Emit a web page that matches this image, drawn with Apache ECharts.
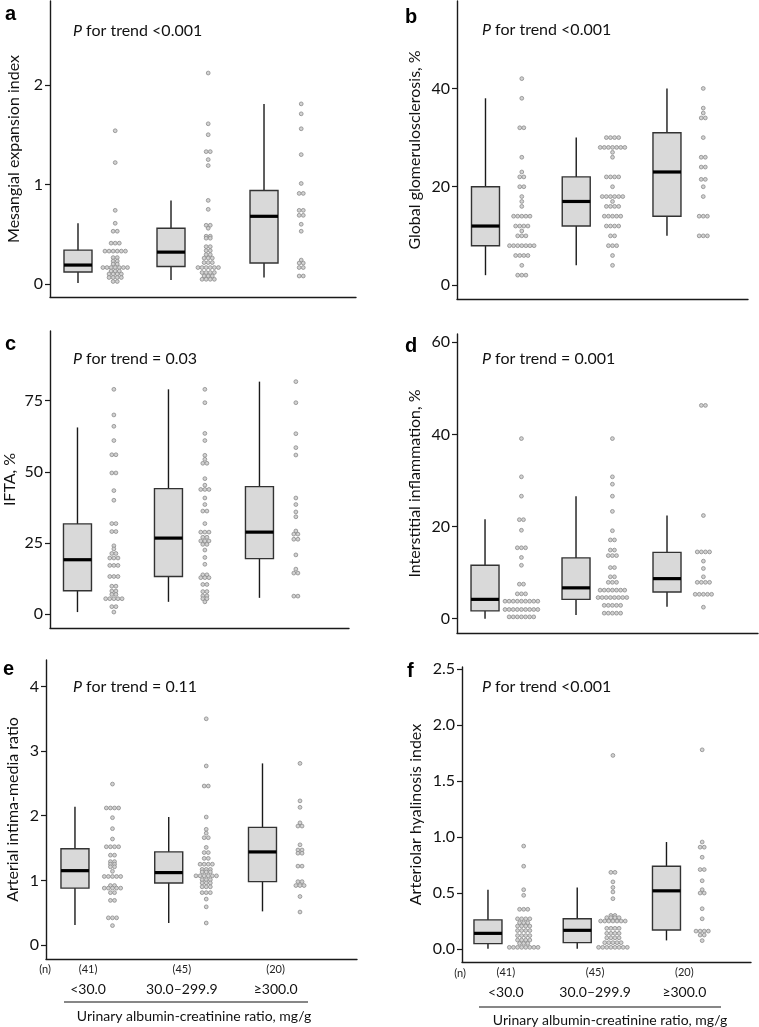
<!DOCTYPE html>
<html><head><meta charset="utf-8">
<script src="https://cdn.jsdelivr.net/npm/echarts@6/dist/echarts.min.js"></script>
<style>html,body{margin:0;padding:0;background:#fff}#c{width:759px;height:1027px}</style>
</head><body><div id="c"></div>
<script>
// ---------- DATA ----------
const groupLabels = ['<30.0', '30.0–299.9', '≥300.0'];
const groupN = ['(41)', '(45)', '(20)'];
const xTitle = 'Urinary albumin-creatinine ratio, mg/g';

// box stats: [low whisker, Q1, median, Q3, high whisker]
const aBox = [[0.01,0.12,0.19,0.34,0.61],[0.04,0.175,0.32,0.56,0.84],[0.065,0.21,0.68,0.94,1.81]];
const a1 = [1.54,1.22,0.74,0.61,0.53,0.53,0.41,0.41,0.41,0.33,0.33,0.33,0.33,0.33,0.33,0.265,0.265,0.23,0.23,0.20,0.20,0.165,0.165,0.165,0.165,0.165,0.165,0.165,0.13,0.13,0.13,0.10,0.10,0.10,0.10,0.065,0.065,0.065,0.065,0.025,0.025];
const a2 = [2.12,1.61,1.50,1.33,1.33,1.25,1.19,0.84,0.75,0.59,0.59,0.56,0.48,0.48,0.46,0.46,0.375,0.375,0.335,0.335,0.295,0.295,0.26,0.26,0.26,0.215,0.215,0.215,0.165,0.165,0.165,0.165,0.165,0.165,0.115,0.115,0.115,0.115,0.08,0.08,0.08,0.047,0.047,0.047,0.047];
const a3 = [1.81,1.71,1.56,1.30,1.01,0.91,0.91,0.74,0.74,0.69,0.69,0.60,0.53,0.24,0.21,0.21,0.165,0.165,0.08,0.08];
const aTicks = [0,1,2];

const bBox = [[2,8,12,20,38],[4,12,17,22,30],[10,14,23,31,40]];
const b1 = [42,38,32,32,26,23,22,22,20,20,18,17,16,14,14,14,14,14,12,12,12,12,11,10,10,10,8,8,8,8,8,8,8,6,6,6,6,4,2,2,2];
const b2 = [30,30,30,30,28,28,28,28,28,28,28,27,26,22,22,22,22,20,18,18,18,18,18,18,17,16,16,16,16,14,14,14,14,14,12,12,12,12,10,10,8,8,8,6,4];
const b3 = [40,36,35,34,34,30,26,26,24,24,21.5,21.5,20,18,14,14,14,10,10,10];
const bTicks = [0,20,40];

const cBox = [[0.7,8.2,19.1,31.7,65.6],[4.3,13.2,26.7,44.1,79],[5.7,19.5,28.8,44.8,81.7]];
const c1 = [79,70,66,61,56,56,49.6,49.6,43.4,40,31.8,31.8,29,29,24,22.9,21.3,21.3,19.7,19.7,19.7,17.1,17.1,17.1,13.2,13.2,13.2,9.8,9.8,8.1,8.1,6.9,6.9,5.4,5.4,5.4,5.4,5.4,2.6,2.6,0.7];
const c2 = [79,74.3,63.5,61,55.8,54.4,53,53,47.6,45.3,43.8,43.8,43.8,40.8,38.5,36.2,36.2,31.8,28.8,28.8,28.8,27,27,25.7,25.7,25.7,24.5,24.5,22.5,19.9,17.5,13.8,13.8,12.8,12.8,12.8,10.4,10.4,7.9,7.9,6.4,6.4,5.4,5.4,4.3];
const c3 = [81.7,74.3,63.4,58.5,55.9,40.8,38.5,35.9,34.2,29.2,28.1,28.1,26.3,26.3,20.8,15.8,14.4,14.4,6.3,6.3];
const cTicks = [0,25,50,75];

const dBox = [[0,1.7,4.2,11.6,21.6],[0.8,4.2,6.7,13.2,26.6],[2.6,5.8,8.7,14.4,22.4]];
const d1 = [39.1,30.8,26.6,21.5,21.5,19.2,15.4,15.4,15.4,13.3,11.6,7.5,7.5,5.4,5.4,5.4,3.8,3.8,3.8,3.8,3.8,3.8,3.8,3.8,3.8,2.0,2.0,2.0,2.0,2.0,2.0,2.0,2.0,2.0,0.4,0.4,0.4,0.4,0.4,0.4,0.4];
const d2 = [39.1,30.8,29.2,26.6,23.3,19.1,17.1,17.1,14.9,14.9,13.7,13.7,13.7,11.1,11.1,9.1,9.1,7.9,7.9,7.9,6.2,6.2,6.2,6.2,6.2,6.2,6.2,4.6,4.6,4.6,4.6,4.6,4.6,4.6,4.6,2.9,2.9,2.9,2.9,2.9,1.2,1.2,1.2,1.2,1.2];
const d3 = [46.3,46.3,22.4,14.5,14.5,14.5,14.5,12.5,10.9,9.1,7.9,7.9,7.9,7.9,5.3,5.3,5.3,5.3,5.3,2.5];
const dTicks = [0,20,40,60];

const eBox = [[0.31,0.88,1.15,1.49,2.14],[0.34,0.96,1.12,1.44,1.98],[0.52,0.98,1.44,1.82,2.81]];
const e1 = [2.49,2.12,2.12,2.12,2.12,1.97,1.80,1.64,1.52,1.52,1.52,1.52,1.39,1.39,1.29,1.29,1.25,1.25,1.21,1.21,1.14,1.06,1.06,1.06,1.06,1.06,0.92,0.92,0.88,0.88,0.88,0.88,0.88,0.81,0.81,0.69,0.69,0.42,0.42,0.42,0.30];
const e2 = [3.50,2.77,2.46,2.46,1.98,1.79,1.73,1.66,1.66,1.51,1.43,1.43,1.34,1.34,1.25,1.25,1.25,1.25,1.17,1.17,1.17,1.13,1.13,1.13,1.07,1.07,1.07,1.07,1.07,1.07,1.01,1.01,1.01,0.96,0.96,0.96,0.90,0.90,0.90,0.81,0.81,0.81,0.71,0.59,0.34];
const e3 = [2.81,2.23,2.13,1.89,1.84,1.84,1.55,1.47,1.47,1.42,1.42,1.22,1.22,0.98,0.98,0.92,0.92,0.92,0.75,0.51];
const eTicks = [0,1,2,3,4];

const fBox = [[0.003,0.048,0.14,0.26,0.53],[0.003,0.057,0.167,0.27,0.55],[0.077,0.17,0.52,0.74,0.956]];
const f1 = [0.92,0.74,0.53,0.48,0.355,0.355,0.355,0.27,0.27,0.27,0.27,0.235,0.235,0.235,0.205,0.205,0.205,0.205,0.165,0.165,0.165,0.165,0.12,0.12,0.12,0.12,0.08,0.08,0.08,0.08,0.05,0.05,0.05,0.015,0.015,0.015,0.015,0.015,0.015,0.015,0.015];
const f2 = [1.73,0.685,0.685,0.60,0.55,0.51,0.45,0.30,0.30,0.28,0.28,0.28,0.28,0.25,0.25,0.25,0.25,0.25,0.25,0.25,0.185,0.185,0.185,0.185,0.14,0.14,0.14,0.14,0.10,0.10,0.10,0.10,0.057,0.057,0.057,0.057,0.057,0.015,0.015,0.015,0.015,0.015,0.015,0.015,0.015];
const f3 = [1.78,0.956,0.91,0.91,0.82,0.71,0.71,0.61,0.53,0.50,0.50,0.36,0.27,0.16,0.16,0.16,0.16,0.125,0.125,0.075];
const fTicks = [0,0.5,1.0,1.5,2.0,2.5];

// ---------- LAYOUT ----------
const FONT = 'Lato';
const panels = [
  {L:'a', name:'Mesangial expansion index', p:'<0.001', box:aBox, dots:[a1,a2,a3], ticks:aTicks, dec:0,
   grid:{left:50,top:1,width:306,height:296}, y:[-0.131,2.844], x:[-0.301,2.989], gap:28, lx:5, ly:14, px:73, py:31},
  {L:'b', name:'Global glomerulosclerosis, %', p:'<0.001', box:bBox, dots:[b1,b2,b3], ticks:bTicks, dec:0,
   grid:{left:457,top:1,width:291,height:298}, y:[-2.85,57.8], x:[-0.314,2.893], gap:34, lx:405, ly:17, px:482, py:30},
  {L:'c', name:'IFTA, %', p:'= 0.03', box:cBox, dots:[c1,c2,c3], ticks:cTicks, dec:0,
   grid:{left:50,top:331,width:299,height:297}, y:[-4.9,99.5], x:[-0.302,2.984], gap:32, lx:5, ly:344, px:73, py:359},
  {L:'d', name:'Interstitial inflammation, %', p:'= 0.001', box:dBox, dots:[d1,d2,d3], ticks:dTicks, dec:0,
   grid:{left:457,top:334,width:301,height:299}, y:[-3.1,61.8], x:[-0.308,3.0], gap:34, lx:405, ly:346, px:482, py:359},
  {L:'e', name:'Arterial intima-media ratio', p:'= 0.11', box:eBox, dots:[e1,e2,e3], ticks:eTicks, dec:0,
   grid:{left:46,top:660,width:311,height:299}, y:[-0.217,4.41], x:[-0.309,3.008], gap:25, lx:3, ly:669, px:73, py:687,
   cat:{shift:0.14, nx:45, ny:969, lineX:[64,308], lineY:1002, tx:194, ty:1016}},
  {L:'f', name:'Arteriolar hyalinosis index', p:'<0.001', box:fBox, dots:[f1,f2,f3], ticks:fTicks, dec:1,
   grid:{left:462,top:667,width:289,height:295}, y:[-0.116,2.52], x:[-0.291,2.947], gap:38, lx:407, ly:671, px:482, py:687,
   cat:{shift:0.2, nx:460, ny:973, lineX:[479,721], lineY:1007, tx:610, ty:1020}}
];

const DOT_STEP = 4.1, DOT_R = 1.9, DOT_SHIFT = 0.4, BOX_HW = 14;

function renderBox(params, api) {
  const x = api.value(0);
  const lo = api.coord([x, api.value(1)]), q1 = api.coord([x, api.value(2)]),
        md = api.coord([x, api.value(3)]), q3 = api.coord([x, api.value(4)]),
        hi = api.coord([x, api.value(5)]);
  const cx = lo[0];
  return {type:'group', children:[
    {type:'line', shape:{x1:cx,y1:hi[1],x2:cx,y2:lo[1]}, style:{stroke:'#1a1a1a',lineWidth:1.4}},
    {type:'rect', shape:{x:cx-BOX_HW,y:q3[1],width:2*BOX_HW,height:q1[1]-q3[1]}, style:{fill:'#d9d9d9',stroke:'#333',lineWidth:1.4}},
    {type:'line', shape:{x1:cx-BOX_HW,y1:md[1],x2:cx+BOX_HW,y2:md[1]}, style:{stroke:'#000',lineWidth:3.2}}
  ]};
}
function renderDot(params, api) {
  const p = api.coord([api.value(0), api.value(1)]);
  const off = (api.value(2) - (api.value(3) - 1) / 2) * DOT_STEP;
  return {type:'circle', shape:{cx:p[0]+off, cy:p[1], r:DOT_R},
          style:{fill:'#d2d2d2', stroke:'#8a8a8a', lineWidth:0.8}};
}
function swarm(values, xPos) {
  const counts = {}, seen = {};
  values.forEach(v => { counts[v] = (counts[v] || 0) + 1; });
  return values.map(v => { const k = seen[v] || 0; seen[v] = k + 1; return [xPos, v, k, counts[v]]; });
}

const grids = [], xAxes = [], yAxes = [], series = [], graphics = [];
panels.forEach((P, i) => {
  grids.push(P.grid);
  const xa = {gridIndex:i, type:'value', min:P.x[0], max:P.x[1],
    axisLine:{show:true, onZero:false, lineStyle:{color:'#1a1a1a', width:1.4}},
    axisTick:{show:false}, splitLine:{show:false}, axisLabel:{show:false}};
  if (P.cat) {
    const s = P.cat.shift;
    xa.axisLabel = {show:true, customValues:[s, 1 + s, 2 + s], margin:0,
      formatter: v => { const k = Math.round(v - s); return '{n|' + groupN[k] + '}\n{c|' + groupLabels[k] + '}'; },
      rich:{n:{fontFamily:FONT, fontSize:11, lineHeight:20, color:'#222'},
            c:{fontFamily:FONT, fontSize:14, lineHeight:20, color:'#111'}}};
    graphics.push({type:'text', x:P.cat.nx, y:P.cat.ny, style:{text:'(n)', font:'11px ' + FONT, fill:'#222', textAlign:'center', textVerticalAlign:'middle'}});
    graphics.push({type:'line', shape:{x1:P.cat.lineX[0], y1:P.cat.lineY, x2:P.cat.lineX[1], y2:P.cat.lineY}, style:{stroke:'#111', lineWidth:1.2}});
    graphics.push({type:'text', x:P.cat.tx, y:P.cat.ty, style:{text:xTitle, font:'14px ' + FONT, fill:'#111', textAlign:'center', textVerticalAlign:'middle'}});
  }
  xAxes.push(xa);
  yAxes.push({gridIndex:i, type:'value', min:P.y[0], max:P.y[1],
    name:P.name, nameLocation:'middle', nameGap:P.gap, nameRotate:90,
    nameTextStyle:{fontFamily:FONT, fontSize:16, color:'#111'},
    axisLine:{show:true, onZero:false, lineStyle:{color:'#1a1a1a', width:1.4}},
    axisTick:{show:true, customValues:P.ticks, length:5, lineStyle:{color:'#1a1a1a', width:1.2}},
    axisLabel:{show:true, customValues:P.ticks, margin:7, fontFamily:FONT, fontSize:16, color:'#111',
      formatter: v => Number(v).toFixed(P.dec)},
    splitLine:{show:false}});
  series.push({type:'custom', xAxisIndex:i, yAxisIndex:i, renderItem:renderBox, clip:false, silent:true,
    data: P.box.map((b, k) => [k, b[0], b[1], b[2], b[3], b[4]])});
  let dots = [];
  P.dots.forEach((arr, k) => { dots = dots.concat(swarm(arr, k + DOT_SHIFT)); });
  series.push({type:'custom', xAxisIndex:i, yAxisIndex:i, renderItem:renderDot, clip:false, silent:true, data:dots});
  graphics.push({type:'text', x:P.lx, y:P.ly, style:{text:P.L, font:'bold 20px Liberation Sans', fill:'#000', textVerticalAlign:'middle'}});
  graphics.push({type:'text', x:P.px, y:P.py, style:{text:'{i|P}{r| for trend ' + P.p + '}',
    rich:{i:{fontFamily:FONT, fontSize:16, fontStyle:'italic', fill:'#111'}, r:{fontFamily:FONT, fontSize:16, fill:'#111'}},
    textVerticalAlign:'middle'}});
});

const chart = echarts.init(document.getElementById('c'), null, {renderer:'canvas'});
chart.setOption({animation:false, backgroundColor:'#fff', grid:grids, xAxis:xAxes, yAxis:yAxes, series:series, graphic:graphics});
</script></body></html>
